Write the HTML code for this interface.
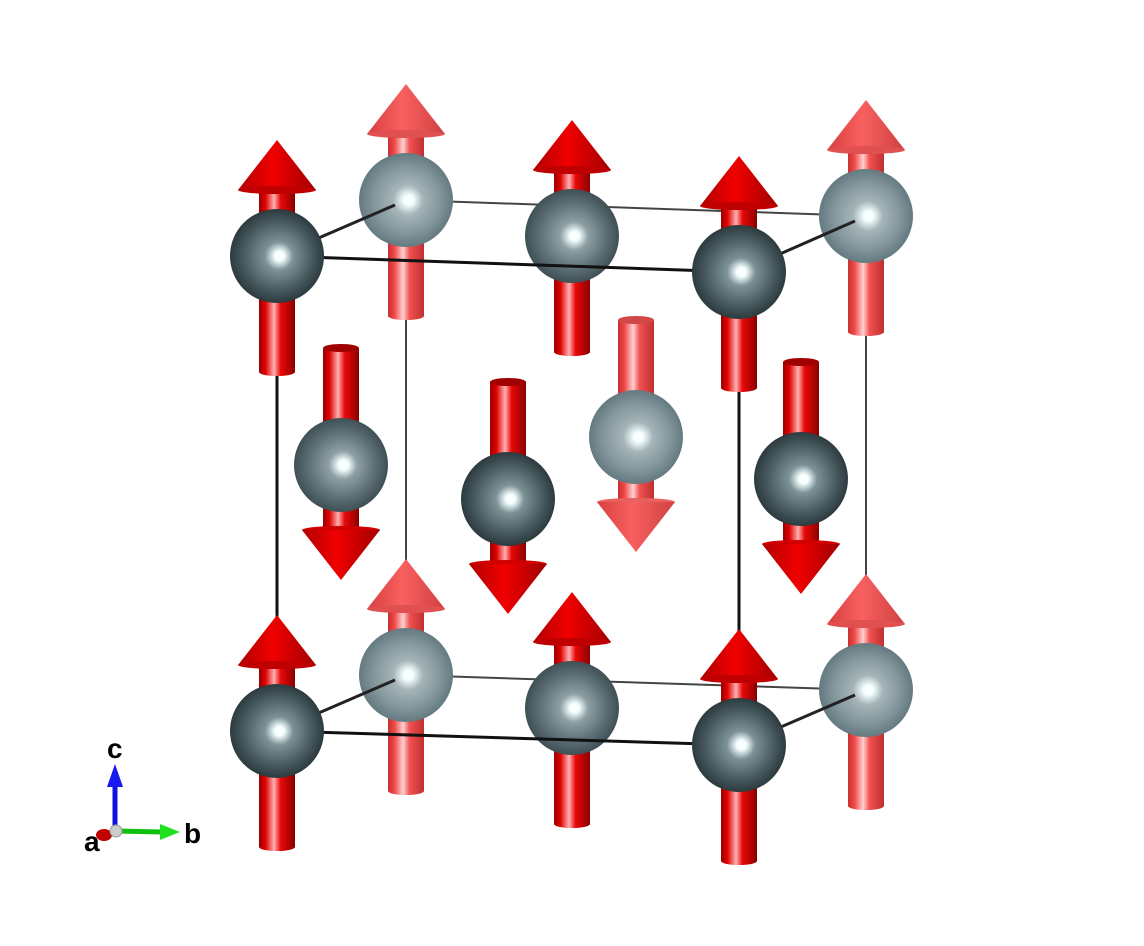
<!DOCTYPE html>
<html><head><meta charset="utf-8"><style>html,body{margin:0;padding:0;background:#fff}svg{display:block}</style></head>
<body>
<svg id="s" width="1144" height="946" viewBox="0 0 1144 946" xmlns="http://www.w3.org/2000/svg">
<defs>
<linearGradient id="rf" x1="0" x2="1" y1="0" y2="0">
<stop offset="0" stop-color="#9a0000"/><stop offset="0.18" stop-color="#e00000"/><stop offset="0.42" stop-color="#ffb0b0"/><stop offset="0.6" stop-color="#e80808"/><stop offset="1" stop-color="#8a0000"/></linearGradient>
<linearGradient id="rb" x1="0" x2="1" y1="0" y2="0">
<stop offset="0" stop-color="#c83030"/><stop offset="0.18" stop-color="#f04848"/><stop offset="0.42" stop-color="#ffd0d0"/><stop offset="0.6" stop-color="#f05050"/><stop offset="1" stop-color="#c03030"/></linearGradient>
<linearGradient id="cf" x1="0" x2="1" y1="0" y2="0">
<stop offset="0" stop-color="#b00000"/><stop offset="0.45" stop-color="#f00000"/><stop offset="1" stop-color="#a00000"/></linearGradient>
<linearGradient id="cb" x1="0" x2="1" y1="0" y2="0">
<stop offset="0" stop-color="#d84040"/><stop offset="0.45" stop-color="#f86060"/><stop offset="1" stop-color="#d04040"/></linearGradient>
<radialGradient id="sd" cx="0.5" cy="0.5" r="0.5" fx="0.53" fy="0.5">
<stop offset="0" stop-color="#ffffff"/><stop offset="0.1" stop-color="#f4ffff"/><stop offset="0.3" stop-color="#7d9297"/><stop offset="0.7" stop-color="#4a5e63"/><stop offset="1" stop-color="#2c3a3e"/></radialGradient>
<radialGradient id="sm" cx="0.5" cy="0.5" r="0.5" fx="0.53" fy="0.5">
<stop offset="0" stop-color="#ffffff"/><stop offset="0.1" stop-color="#f4ffff"/><stop offset="0.3" stop-color="#8ea0a5"/><stop offset="0.7" stop-color="#5d7075"/><stop offset="1" stop-color="#3f5055"/></radialGradient>
<radialGradient id="sl" cx="0.5" cy="0.5" r="0.5" fx="0.53" fy="0.5">
<stop offset="0" stop-color="#ffffff"/><stop offset="0.1" stop-color="#f4ffff"/><stop offset="0.32" stop-color="#a5b4b8"/><stop offset="0.7" stop-color="#83979c"/><stop offset="1" stop-color="#647a80"/></radialGradient>
</defs>
<g id="g"></g>
<g font-family="Liberation Sans, sans-serif" font-weight="bold" font-size="28" fill="#000">
<line x1="115" y1="828" x2="115" y2="785" stroke="#1010e0" stroke-width="5"/>
<polygon points="107,787 123,787 115,764" fill="#1818f0"/>
<line x1="118" y1="831" x2="162" y2="832" stroke="#10c010" stroke-width="5"/>
<polygon points="160,824 160,840 180,832" fill="#20e020"/>
<ellipse cx="104" cy="835" rx="8" ry="6" fill="#c00000"/>
<circle cx="116" cy="831" r="6" fill="#ccc" stroke="#999"/>
<text x="107" y="758">c</text>
<text x="184" y="843">b</text>
<text x="84" y="851">a</text>
</g>
</svg>
<script>
var g=document.getElementById('g'),NS='http://www.w3.org/2000/svg';
function el(t,a){var e=document.createElementNS(NS,t);for(var k in a)e.setAttribute(k,a[k]);g.appendChild(e);}
function line(x1,y1,x2,y2,c,w){el('line',{x1:x1,y1:y1,x2:x2,y2:y2,stroke:c,'stroke-width':w});}
function arrow(x,y,up,back){
 var sh=back?'url(#rb)':'url(#rf)',co=back?'url(#cb)':'url(#cf)',hw=18,cw=39;
 var top=up?y-66:y-117,bot=up?y+116:y+65;
 el('rect',{x:x-hw,y:top,width:2*hw,height:bot-top,fill:sh});
 el('ellipse',{cx:x,cy:up?bot:bot,rx:hw,ry:4,fill:sh});
 if(!up)el('ellipse',{cx:x,cy:top,rx:hw,ry:4,fill:back?'#d04848':'#a00000'});
 if(up){el('polygon',{points:(x-cw)+','+(y-66)+' '+(x+cw)+','+(y-66)+' '+x+','+(y-116),fill:co});
  el('ellipse',{cx:x,cy:y-66,rx:cw,ry:4,fill:back?'#e05050':'#c00000'});}
 else{el('ellipse',{cx:x,cy:y+65,rx:cw,ry:4,fill:back?'#e86060':'#d00000'});
  el('polygon',{points:(x-cw)+','+(y+65)+' '+(x+cw)+','+(y+65)+' '+x+','+(y+115),fill:co});}
}
function atom(x,y,t,r){el('circle',{cx:x,cy:y,r:r||47,fill:'url(#'+t+')'});}
function obj(x,y,up,back,t){arrow(x,y,up,back);atom(x,y,t);}
// back lines
line(406,200,866,216,'#444',2);line(406,675,866,690,'#444',2);
line(406,200,406,675,'#444',2);line(866,216,866,690,'#444',2);
// back atoms
obj(406,200,1,1,'sl');obj(866,216,1,1,'sl');
obj(406,675,1,1,'sl');obj(866,690,1,1,'sl');
obj(636,437,0,1,'sl');
obj(341,465,0,0,'sm');
obj(572,236,1,0,'sm');obj(572,708,1,0,'sm');
// front lines
line(277,256,395,205,'#222',3);line(739,272,855,221,'#222',3);
line(277,731,395,680,'#222',3);line(739,745,855,695,'#222',3);
line(277,256,739,272,'#111',3);line(277,731,739,745,'#111',3);
line(277,256,277,731,'#111',3);line(739,272,739,745,'#111',3);
obj(801,479,0,0,'sd');
obj(508,499,0,0,'sd');
obj(277,256,1,0,'sd');obj(739,272,1,0,'sd');
obj(277,731,1,0,'sd');obj(739,745,1,0,'sd');
</script>
</body></html>
